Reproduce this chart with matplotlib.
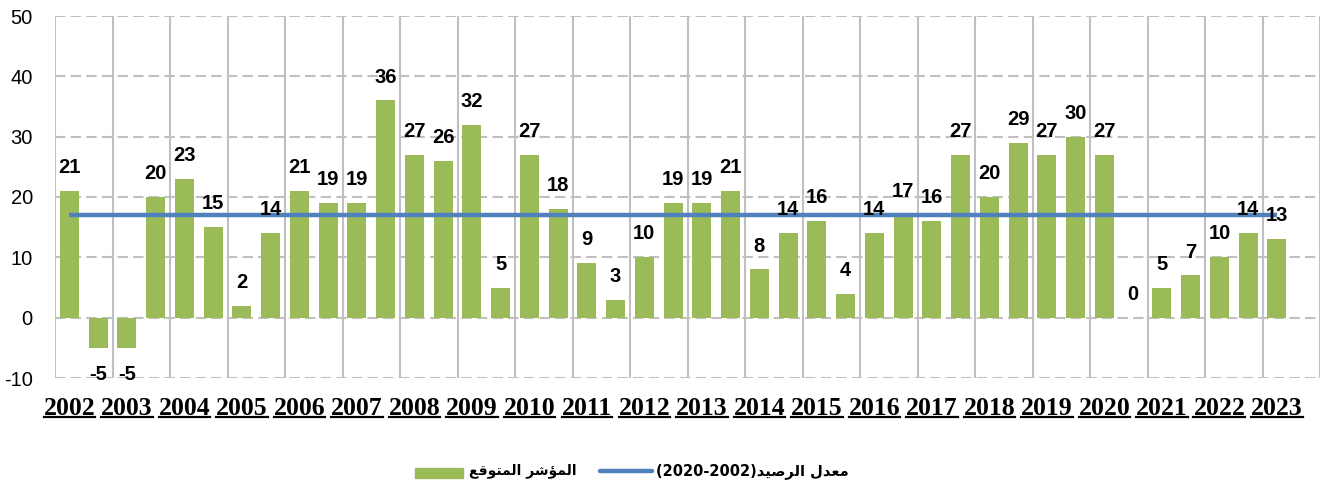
import numpy as np
import matplotlib
matplotlib.use('Agg')
import matplotlib.pyplot as plt
from matplotlib.lines import Line2D
from matplotlib.patches import Rectangle

#Values (two readings per year, 2002-2023)
years = list(range(2002, 2024))
values = [21, -5, -5, 20, 23, 15, 2, 14, 21, 19, 19, 36, 27, 26, 32, 5, 27, 18, 9, 3, 10,
          19, 19, 21, 8, 14, 16, 4, 14, 17, 16, 27, 20, 29, 27, 30, 27, 0, 5, 7, 10, 14, 13]
avgLine = [17] * len(values)
yTicks = [-10, 0, 10, 20, 30, 40, 50]

barName = 'المؤشر المتوقع'
lineName = 'معدل الرصيد'
linePeriod = '(2020-2002)'

barColor = '#9BBB59'
lineColor = '#4F81BD'
gridColor = '#C0C0C0'

#Simple Arabic shaping (presentation forms) because matplotlib has no text shaping
forms = {
    'ا': ('\uFE8D', '\uFE8E', None, None),
    'د': ('\uFEA9', '\uFEAA', None, None),
    'ر': ('\uFEAD', '\uFEAE', None, None),
    'و': ('\uFEED', '\uFEEE', None, None),
    'ؤ': ('\uFE85', '\uFE86', None, None),
    'ل': ('\uFEDD', '\uFEDE', '\uFEDF', '\uFEE0'),
    'م': ('\uFEE1', '\uFEE2', '\uFEE3', '\uFEE4'),
    'ع': ('\uFEC9', '\uFECA', '\uFECB', '\uFECC'),
    'ص': ('\uFEB9', '\uFEBA', '\uFEBB', '\uFEBC'),
    'ي': ('\uFEF1', '\uFEF2', '\uFEF3', '\uFEF4'),
    'ش': ('\uFEB5', '\uFEB6', '\uFEB7', '\uFEB8'),
    'ت': ('\uFE95', '\uFE96', '\uFE97', '\uFE98'),
    'ق': ('\uFED5', '\uFED6', '\uFED7', '\uFED8'),
}


def shape(text):
    out = []
    for i, ch in enumerate(text):
        if ch not in forms:
            out.append(ch)
            continue
        prev = text[i - 1] if i > 0 else ''
        nxt = text[i + 1] if i + 1 < len(text) else ''
        joinPrev = prev in forms and forms[prev][2] is not None
        joinNext = forms[ch][2] is not None and nxt in forms
        f = forms[ch]
        if joinPrev and joinNext:
            out.append(f[3])
        elif joinPrev:
            out.append(f[1])
        elif joinNext:
            out.append(f[2])
        else:
            out.append(f[0])
    return ''.join(out)[::-1]


fig = plt.figure(figsize=(13.26, 4.88), dpi=100)
ax = fig.add_axes([55 / 1326, 1 - 378 / 488, (1320 - 55) / 1326, (378 - 16) / 488])

x = np.arange(len(values))
ax.bar(x, values, width=0.66, color=barColor, zorder=2)
ax.plot(x, avgLine, color=lineColor, linewidth=3.2, zorder=3, solid_capstyle='butt')

#data labels
for xi, v in zip(x, values):
    if v < 0:
        ax.annotate(str(v), (xi, v), xytext=(0, -12), textcoords='offset points',
                    ha='center', va='top', fontsize=14.5, fontweight='bold',
                    family='Liberation Sans', zorder=4)
    else:
        ax.annotate(str(v), (xi, v), xytext=(0, 10), textcoords='offset points',
                    ha='center', va='bottom', fontsize=14.5, fontweight='bold',
                    family='Liberation Sans', zorder=4)

ax.set_xlim(-0.5, len(values) + 0.5)
ax.set_ylim(-10, 50)

#grid: dashed horizontal, solid vertical every year
for yv in yTicks:
    ax.axhline(yv, color=gridColor, linestyle=(0, (5, 2.5)), linewidth=1.5, zorder=1)
for b in np.arange(-0.5, len(values) + 1, 2):
    ax.axvline(b, color=gridColor, linewidth=1.5, zorder=1)

for s in ax.spines.values():
    s.set_visible(False)

ax.set_yticks(yTicks)
ax.set_yticklabels([str(t) for t in yTicks], fontsize=14.5, family='Liberation Sans')
ax.set_xticks(x[::2])
ax.set_xticklabels([str(y) for y in years], fontsize=18.5, fontweight='bold',
                   family='Liberation Serif')
ax.tick_params(axis='y', length=0, pad=16)
ax.tick_params(axis='x', length=0, pad=14)

#underline year labels
fig.canvas.draw()
inv = fig.transFigure.inverted()
for lab in ax.get_xticklabels():
    bb = lab.get_window_extent()
    (x0, y0) = inv.transform((bb.x0, bb.y0 + 3))
    (x1, _) = inv.transform((bb.x1, bb.y0 + 3))
    fig.add_artist(Line2D([x0, x1], [y0, y0], color='black', linewidth=1.6,
                          transform=fig.transFigure))

#legend
fig.add_artist(Rectangle((415 / 1326, 1 - 478 / 488), 48 / 1326, 10 / 488,
                         color=barColor, transform=fig.transFigure))
fig.text(469 / 1326, 1 - 471 / 488, shape(barName), fontsize=10, fontweight='bold',
         family=['DejaVu Sans'], ha='left', va='center')
fig.add_artist(Line2D([600 / 1326, 652 / 1326], [1 - 471 / 488, 1 - 471 / 488],
                      color=lineColor, linewidth=3.2, solid_capstyle='round',
                      transform=fig.transFigure))
fig.text(656 / 1326, 1 - 471 / 488, linePeriod + shape(lineName), fontsize=10.5,
         fontweight='bold', family=['DejaVu Sans'], ha='left', va='center')

fig.savefig('out.png', dpi=100)
